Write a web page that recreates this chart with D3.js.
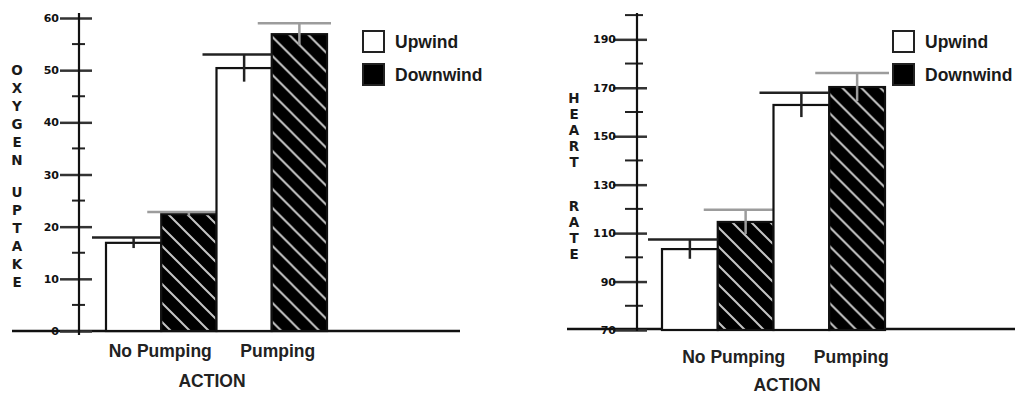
<!DOCTYPE html>
<html>
<head>
<meta charset="utf-8">
<script src="https://cdn.jsdelivr.net/npm/d3@7"></script>
<style>
  body { margin: 0; background: #fff; }
  svg { display: block; font-family: "Liberation Sans", Arial, sans-serif; font-weight: bold; }
</style>
</head>
<body>
<div id="main"></div>
<script>
// categories
const actions = ["No Pumping", "Pumping"];
const winds = ["Upwind", "Downwind"];

// oxygen uptake (left panel)
const oxygenUpwind = [16.9, 50.4];
const oxygenDownwind = [22.4, 56.9];
const oxygenUpwindErr = [1.0, 2.6];
const oxygenDownwindErr = [0.4, 2.1];
const oxygenTicks = [0, 10, 20, 30, 40, 50, 60];
const oxygenMinor = [5, 15, 25, 35, 45, 55];

// heart rate (right panel)
const heartUpwind = [103.4, 162.9];
const heartDownwind = [114.6, 170.3];
const heartUpwindErr = [4, 5];
const heartDownwindErr = [5, 5.8];
const heartTicks = [70, 90, 110, 130, 150, 170, 190];
const heartMinor = [80, 100, 120, 140, 160, 180, 200];

const W = 1021, H = 397;

const svg = d3.select("#main")
  .append("svg")
    .attr("width", W)
    .attr("height", H);

// hatch for the downwind bars
const pat = svg.append("defs").append("pattern")
  .attr("id", "hatch")
  .attr("patternUnits", "userSpaceOnUse")
  .attr("width", 19)
  .attr("height", 19);
pat.append("rect").attr("width", 19).attr("height", 19).attr("fill", "#000");
pat.append("path")
  .attr("d", "M-2,-2L21,21M-2,17L2,21M17,-2L21,2")
  .attr("stroke", "#c4c4c4")
  .attr("stroke-width", 2);

function stackTitle(g, words, x, y0, step, gap) {
  let y = y0;
  words.forEach((w, wi) => {
    if (wi > 0) y += gap - step;
    for (const ch of w) {
      g.append("text")
        .attr("x", x)
        .attr("y", y)
        .attr("text-anchor", "middle")
        .attr("dominant-baseline", "central")
        .attr("font-family", "'DejaVu Sans', sans-serif")
        .attr("font-size", 13.5)
        .attr("fill", "#1a1a1a")
        .text(ch);
      y += step;
    }
  });
}

function drawPanel(p) {
  const g = svg.append("g");

  const y = d3.scaleLinear().domain(p.domain).range(p.yRange);
  const x0 = d3.scaleBand().domain(actions).range(p.barRange).padding(0);
  const x1 = d3.scaleBand().domain(winds).range([0, x0.bandwidth()]).padding(0);

  // baseline
  g.append("line")
    .attr("x1", p.baseX[0]).attr("x2", p.baseX[1])
    .attr("y1", p.baseY).attr("y2", p.baseY)
    .attr("stroke", "#111").attr("stroke-width", 2.5);

  // y axis
  const axis = g.append("g")
    .attr("transform", `translate(${p.axisX},0)`)
    .call(d3.axisLeft(y)
      .tickValues(p.ticks)
      .tickSizeInner(p.tickL)
      .tickSizeOuter(0)
      .tickPadding(p.pad));
  axis.select(".domain").remove();
  axis.selectAll(".tick line").attr("stroke", "#333").attr("stroke-width", 2.5);
  axis.selectAll(".tick").append("line")
    .attr("x1", 0).attr("x2", p.tickR)
    .attr("stroke", "#333").attr("stroke-width", 2.5);
  axis.selectAll(".tick text")
    .attr("font-size", 11)
    .attr("font-family", "'DejaVu Sans', sans-serif")
    .attr("font-weight", "bold")
    .attr("fill", "#111");
  axis.selectAll(".minor")
    .data(p.minor)
    .join("line")
      .attr("class", "minor")
      .attr("x1", -p.minL).attr("x2", p.minR)
      .attr("y1", d => y(d)).attr("y2", d => y(d))
      .attr("stroke", "#222").attr("stroke-width", 2);
  axis.append("line")
    .attr("x1", 0).attr("x2", 0)
    .attr("y1", p.axisY[0]).attr("y2", p.axisY[1])
    .attr("stroke", "#111").attr("stroke-width", 2.2);

  // bars
  const rows = actions.map((a, i) => ({
    action: a,
    vals: [
      {wind: "Upwind", v: p.up[i], e: p.upErr[i]},
      {wind: "Downwind", v: p.down[i], e: p.downErr[i]}
    ]
  }));

  const grp = g.selectAll(".grp")
    .data(rows)
    .join("g")
      .attr("class", "grp")
      .attr("transform", d => `translate(${x0(d.action)},0)`);

  grp.selectAll("rect")
    .data(d => d.vals)
    .join("rect")
      .attr("x", d => x1(d.wind))
      .attr("y", d => y(d.v))
      .attr("width", x1.bandwidth())
      .attr("height", d => y(p.domain[0]) - y(d.v))
      .attr("fill", d => d.wind === "Upwind" ? "#fff" : "url(#hatch)")
      .attr("stroke", "#111")
      .attr("stroke-width", 2.2);

  // error bars
  grp.selectAll(".cap")
    .data(d => d.vals)
    .join("line")
      .attr("class", "cap")
      .attr("x1", d => x1(d.wind) - 14)
      .attr("x2", d => x1(d.wind) + x1.bandwidth() + (d.wind === "Upwind" ? 0 : 4))
      .attr("y1", d => y(d.v + d.e)).attr("y2", d => y(d.v + d.e))
      .attr("stroke", d => d.wind === "Upwind" ? "#222" : "#9c9c9c")
      .attr("stroke-width", 2.5);
  grp.selectAll(".whisk")
    .data(d => d.vals)
    .join("line")
      .attr("class", "whisk")
      .attr("x1", d => x1(d.wind) + x1.bandwidth() / 2)
      .attr("x2", d => x1(d.wind) + x1.bandwidth() / 2)
      .attr("y1", d => y(d.v + d.e)).attr("y2", d => y(d.v - d.e))
      .attr("stroke", d => d.wind === "Upwind" ? "#222" : "#9c9c9c")
      .attr("stroke-width", 2.5);

  // category labels
  g.selectAll(".cat")
    .data(actions)
    .join("text")
      .attr("class", "cat")
      .attr("x", (d, i) => x0(d) + x0.bandwidth() / 2 + p.labelShift[i])
      .attr("y", p.labelY)
      .attr("text-anchor", "middle")
      .attr("font-size", 17.5)
      .attr("fill", "#222")
      .text(d => d);

  g.append("text")
    .attr("x", p.actionX)
    .attr("y", p.actionY)
    .attr("text-anchor", "middle")
    .attr("font-size", 17.5)
    .attr("fill", "#222")
    .text("ACTION");

  // y title, one letter per line
  stackTitle(g, p.title, p.titleX, p.titleY, p.titleStep, p.titleGap);

  // legend
  const leg = g.selectAll(".leg")
    .data(winds)
    .join("g")
      .attr("class", "leg")
      .attr("transform", (d, i) => `translate(${p.legX},${p.legY + i * 33})`);
  leg.append("rect")
    .attr("width", 21).attr("height", 21)
    .attr("fill", d => d === "Upwind" ? "#fff" : "#000")
    .attr("stroke", "#222").attr("stroke-width", 2);
  leg.append("text")
    .attr("x", 32).attr("y", 11)
    .attr("dominant-baseline", "central")
    .attr("font-size", 17.5)
    .attr("fill", "#1a1a1a")
    .text(d => d);
}

drawPanel({
  domain: [0, 60], yRange: [331, 18],
  ticks: oxygenTicks, minor: oxygenMinor,
  axisX: 79, axisY: [13, 335], tickL: 19, tickR: 13, minL: 7, minR: 6, pad: 1,
  baseX: [12, 460], baseY: 331,
  barRange: [106, 327],
  up: oxygenUpwind, down: oxygenDownwind, upErr: oxygenUpwindErr, downErr: oxygenDownwindErr,
  labelY: 357, labelShift: [-1, 6], actionX: 212, actionY: 387,
  title: ["OXYGEN", "UPTAKE"], titleX: 17, titleY: 70, titleStep: 18, titleGap: 32,
  legX: 363, legY: 31
});

drawPanel({
  domain: [70, 200], yRange: [330, 15.1],
  ticks: heartTicks, minor: heartMinor,
  axisX: 637, axisY: [13, 331], tickL: 24, tickR: 10, minL: 12, minR: 6, pad: -3,
  baseX: [567, 1015], baseY: 329,
  barRange: [662, 885],
  up: heartUpwind, down: heartDownwind, upErr: heartUpwindErr, downErr: heartDownwindErr,
  labelY: 363, labelShift: [16, 22], actionX: 787, actionY: 391,
  title: ["HEART", "RATE"], titleX: 574, titleY: 98, titleStep: 16, titleGap: 44,
  legX: 893, legY: 31
});
</script>
</body>
</html>
